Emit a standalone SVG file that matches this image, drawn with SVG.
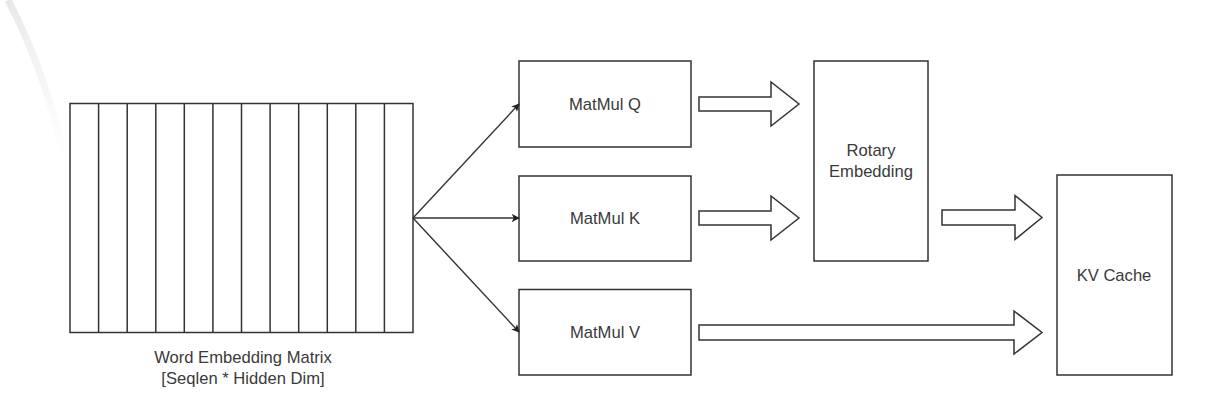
<svg xmlns="http://www.w3.org/2000/svg" width="1224" height="416" viewBox="0 0 1224 416">
<defs>
<style>
.box{fill:#fff;stroke:#333;stroke-width:1.5}
.col{stroke:#333;stroke-width:1.5;fill:none}
.txt{font-family:"Liberation Sans",Arial,sans-serif;font-size:16.6px;fill:#3a3a3a;text-anchor:middle}
.edge{stroke:#333;stroke-width:1.4;fill:none}
.barrow{fill:#fff;stroke:#333;stroke-width:1.5;stroke-linejoin:miter}
</style>
<marker id="ah" viewBox="0 0 10 10" refX="9" refY="5" markerWidth="8" markerHeight="8" markerUnits="userSpaceOnUse" orient="auto">
<path d="M0,0 L10,5 L0,10 L2.5,5 Z" fill="#222"/>
</marker>
<linearGradient id="shade" x1="0" y1="0" x2="0" y2="1">
<stop offset="0" stop-color="#e8e8e8" stop-opacity="1"/>
<stop offset="1" stop-color="#f4f4f4" stop-opacity="0"/>
</linearGradient>
</defs>
<rect width="1224" height="416" fill="#fff"/>
<path d="M8,0 Q45,70 68,170" stroke="url(#shade)" stroke-width="7" fill="none"/>

<g id="matrix">
<rect class="box" x="70" y="103.5" width="343" height="229"/>
<path class="col" d="M98.6,103.5V332.5M127.2,103.5V332.5M155.8,103.5V332.5M184.3,103.5V332.5M212.9,103.5V332.5M241.5,103.5V332.5M270.1,103.5V332.5M298.7,103.5V332.5M327.3,103.5V332.5M355.8,103.5V332.5M384.4,103.5V332.5"/>
<text class="txt" x="243" y="363">Word Embedding Matrix</text>
<text class="txt" x="243" y="384">[Seqlen * Hidden Dim]</text>
</g>

<g id="matmulQ">
<rect class="box" x="519" y="61" width="172" height="86"/>
<text class="txt" x="605" y="110">MatMul Q</text>
</g>
<g id="matmulK">
<rect class="box" x="519" y="176" width="172" height="85"/>
<text class="txt" x="605" y="224">MatMul K</text>
</g>
<g id="matmulV">
<rect class="box" x="519" y="289.5" width="172" height="85.5"/>
<text class="txt" x="605" y="338">MatMul V</text>
</g>
<g id="rotary">
<rect class="box" x="814" y="61" width="114" height="200"/>
<text class="txt" x="871" y="156">Rotary</text>
<text class="txt" x="871" y="177">Embedding</text>
</g>
<g id="kvcache">
<rect class="box" x="1057" y="175" width="115" height="200"/>
<text class="txt" x="1114" y="281">KV Cache</text>
</g>

<g id="connectors">
<path class="edge" marker-end="url(#ah)" d="M413,218 L519,104"/>
<path class="edge" marker-end="url(#ah)" d="M413,218 L519,218"/>
<path class="edge" marker-end="url(#ah)" d="M413,218 L519,332"/>
<path class="barrow" d="M699,97 H771 V82 L799,104 L771,126 V111 H699 Z"/>
<path class="barrow" d="M699,211 H771 V196 L799,218 L771,240 V225 H699 Z"/>
<path class="barrow" d="M942,210 H1015 V195.5 L1042,217.5 L1015,239.5 V225 H942 Z"/>
<path class="barrow" d="M699,325 H1014 V311 L1042,332.5 L1014,354 V340 H699 Z"/>
</g>
</svg>
